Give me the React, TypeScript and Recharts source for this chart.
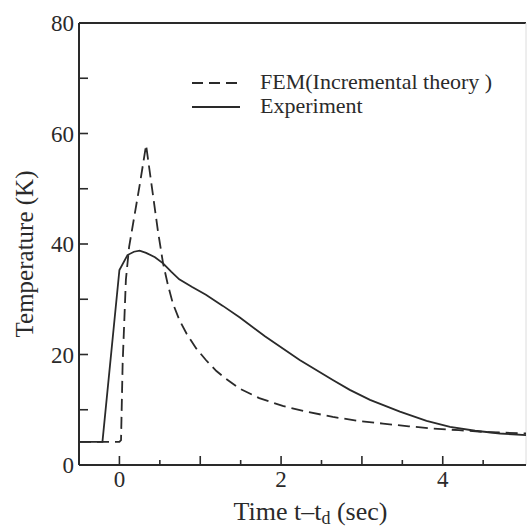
import { Label, Legend, Line, LineChart, ReferenceLine, XAxis, YAxis } from "recharts";

const INK = "#2a2a2a";
const FONT = "Liberation Serif, serif";

const femName = "FEM(Incremental theory )";
const expName = "Experiment";

// FEM (incremental theory), dashed
const femX = [-0.5, 0.0, 0.02, 0.04, 0.08, 0.12, 0.25, 0.33, 0.475, 0.54, 0.6, 0.66, 0.74, 0.83, 0.95, 1.07, 1.2, 1.32, 1.49, 1.73, 2.02, 2.3, 2.64, 2.95, 3.26, 3.58, 3.88, 4.2, 4.5, 5.03];
const femY = [4.2, 4.2, 4.5, 18.4, 33.5, 39.5, 50.6, 57.9, 42.5, 36.5, 32.6, 29.3, 26.3, 23.8, 21.1, 19.0, 17.0, 15.6, 13.8, 12.1, 10.7, 9.7, 8.7, 8.0, 7.5, 7.0, 6.6, 6.3, 6.0, 5.7];

// Experiment, solid
const expX = [-0.5, -0.21, 0.0, 0.1, 0.18, 0.25, 0.33, 0.44, 0.54, 0.64, 0.74, 0.9, 1.07, 1.28, 1.49, 1.8, 2.23, 2.64, 2.85, 3.1, 3.47, 3.8, 4.09, 4.4, 4.71, 5.03];
const expY = [4.2, 4.2, 35.3, 38.0, 38.6, 38.8, 38.4, 37.6, 36.5, 35.0, 33.6, 32.2, 30.8, 28.8, 26.7, 23.3, 19.0, 15.4, 13.6, 11.8, 9.65, 8.0, 6.9, 6.2, 5.7, 5.4];

const xTicks = [0, 0.5, 1, 1.5, 2, 2.5, 3, 3.5, 4, 4.5];
const xLabels = [0, 2, 4];
const yTicks = [0, 10, 20, 30, 40, 50, 60, 70, 80];
const yLabels = [0, 20, 40, 60, 80];

const femData = femX.map((x, i) => ({ x, y: femY[i] }));
const expData = expX.map((x, i) => ({ x, y: expY[i] }));

function XTick({ x, y, payload }: any) {
  const v = payload.value;
  const major = Math.abs(v - Math.round(v)) < 1e-6;
  return (
    <g>
      <line x1={x} x2={x} y1={y} y2={y - (major ? 9 : 5)} stroke={INK} strokeWidth={1.6} />
      {xLabels.includes(v) && (
        <text x={x} y={y + 22} textAnchor="middle" fontFamily={FONT} fontSize={23} fill={INK}>
          {v}
        </text>
      )}
    </g>
  );
}

function YTick({ x, y, payload }: any) {
  const v = payload.value;
  return (
    <g>
      <line x1={x} x2={x + 9} y1={y} y2={y} stroke={INK} strokeWidth={1.6} />
      {yLabels.includes(v) && (
        <text x={x - 5} y={y + 8} textAnchor="end" fontFamily={FONT} fontSize={23} fill={INK}>
          {v}
        </text>
      )}
    </g>
  );
}

function XTitle({ viewBox }: any) {
  const cx = viewBox.x + viewBox.width / 2 + 8;
  return (
    <text x={cx} y={viewBox.y + 55} textAnchor="middle" fontFamily={FONT} fontSize={26} fill={INK}>
      Time t–t
      <tspan fontSize={18} dy={4}>d</tspan>
      <tspan dy={-4}> (sec)</tspan>
    </text>
  );
}

function YTitle({ viewBox }: any) {
  const cx = 33;
  const cy = viewBox.y + viewBox.height / 2 + 10;
  return (
    <text
      x={cx}
      y={cy}
      transform={`rotate(-90, ${cx}, ${cy})`}
      textAnchor="middle"
      fontFamily={FONT}
      fontSize={25}
      fill={INK}
    >
      Temperature (K)
    </text>
  );
}

function LegendBox() {
  return (
    <svg width={330} height={50} style={{ display: "block" }}>
      <line x1={2} x2={50} y1={13} y2={13} stroke={INK} strokeWidth={1.8} strokeDasharray="11 6" />
      <text x={70} y={19} fontFamily={FONT} fontSize={22} fill={INK}>{femName}</text>
      <line x1={2} x2={50} y1={37} y2={37} stroke={INK} strokeWidth={1.8} />
      <text x={70} y={43} fontFamily={FONT} fontSize={22} fill={INK}>{expName}</text>
    </svg>
  );
}

export default function App() {
  return (
    <div style={{ position: "absolute", left: 0, top: 0, background: "#fff", fontFamily: FONT }}>
      <LineChart width={527} height={530} margin={{ top: 23, right: 1, bottom: 0, left: 0 }}>
        <XAxis
          dataKey="x"
          type="number"
          domain={[-0.5, 5.03]}
          ticks={xTicks}
          tick={<XTick />}
          tickLine={false}
          tickSize={0}
          tickMargin={0}
          height={65}
          axisLine={{ stroke: INK, strokeWidth: 2 }}
          allowDuplicatedCategory={false}
          interval={0}
        >
          <Label content={<XTitle />} />
        </XAxis>
        <YAxis
          type="number"
          domain={[0, 80]}
          ticks={yTicks}
          tick={<YTick />}
          tickLine={false}
          tickSize={0}
          tickMargin={0}
          width={79}
          axisLine={{ stroke: INK, strokeWidth: 2 }}
          interval={0}
        >
          <Label content={<YTitle />} />
        </YAxis>
        <ReferenceLine y={80} stroke={INK} strokeWidth={2} />
        <ReferenceLine x={5.03} stroke="#dcdcdc" strokeWidth={1} />
        <Legend
          verticalAlign="middle"
          align="center"
          content={<LegendBox />}
          wrapperStyle={{ left: 190, top: 70, width: 330, height: 50 }}
        />
        <Line
          data={femData}
          dataKey="y"
          name={femName}
          type="linear"
          stroke={INK}
          strokeWidth={1.8}
          strokeDasharray="12 6"
          dot={false}
          isAnimationActive={false}
        />
        <Line
          data={expData}
          dataKey="y"
          name={expName}
          type="linear"
          stroke={INK}
          strokeWidth={1.8}
          dot={false}
          isAnimationActive={false}
        />
      </LineChart>
    </div>
  );
}
